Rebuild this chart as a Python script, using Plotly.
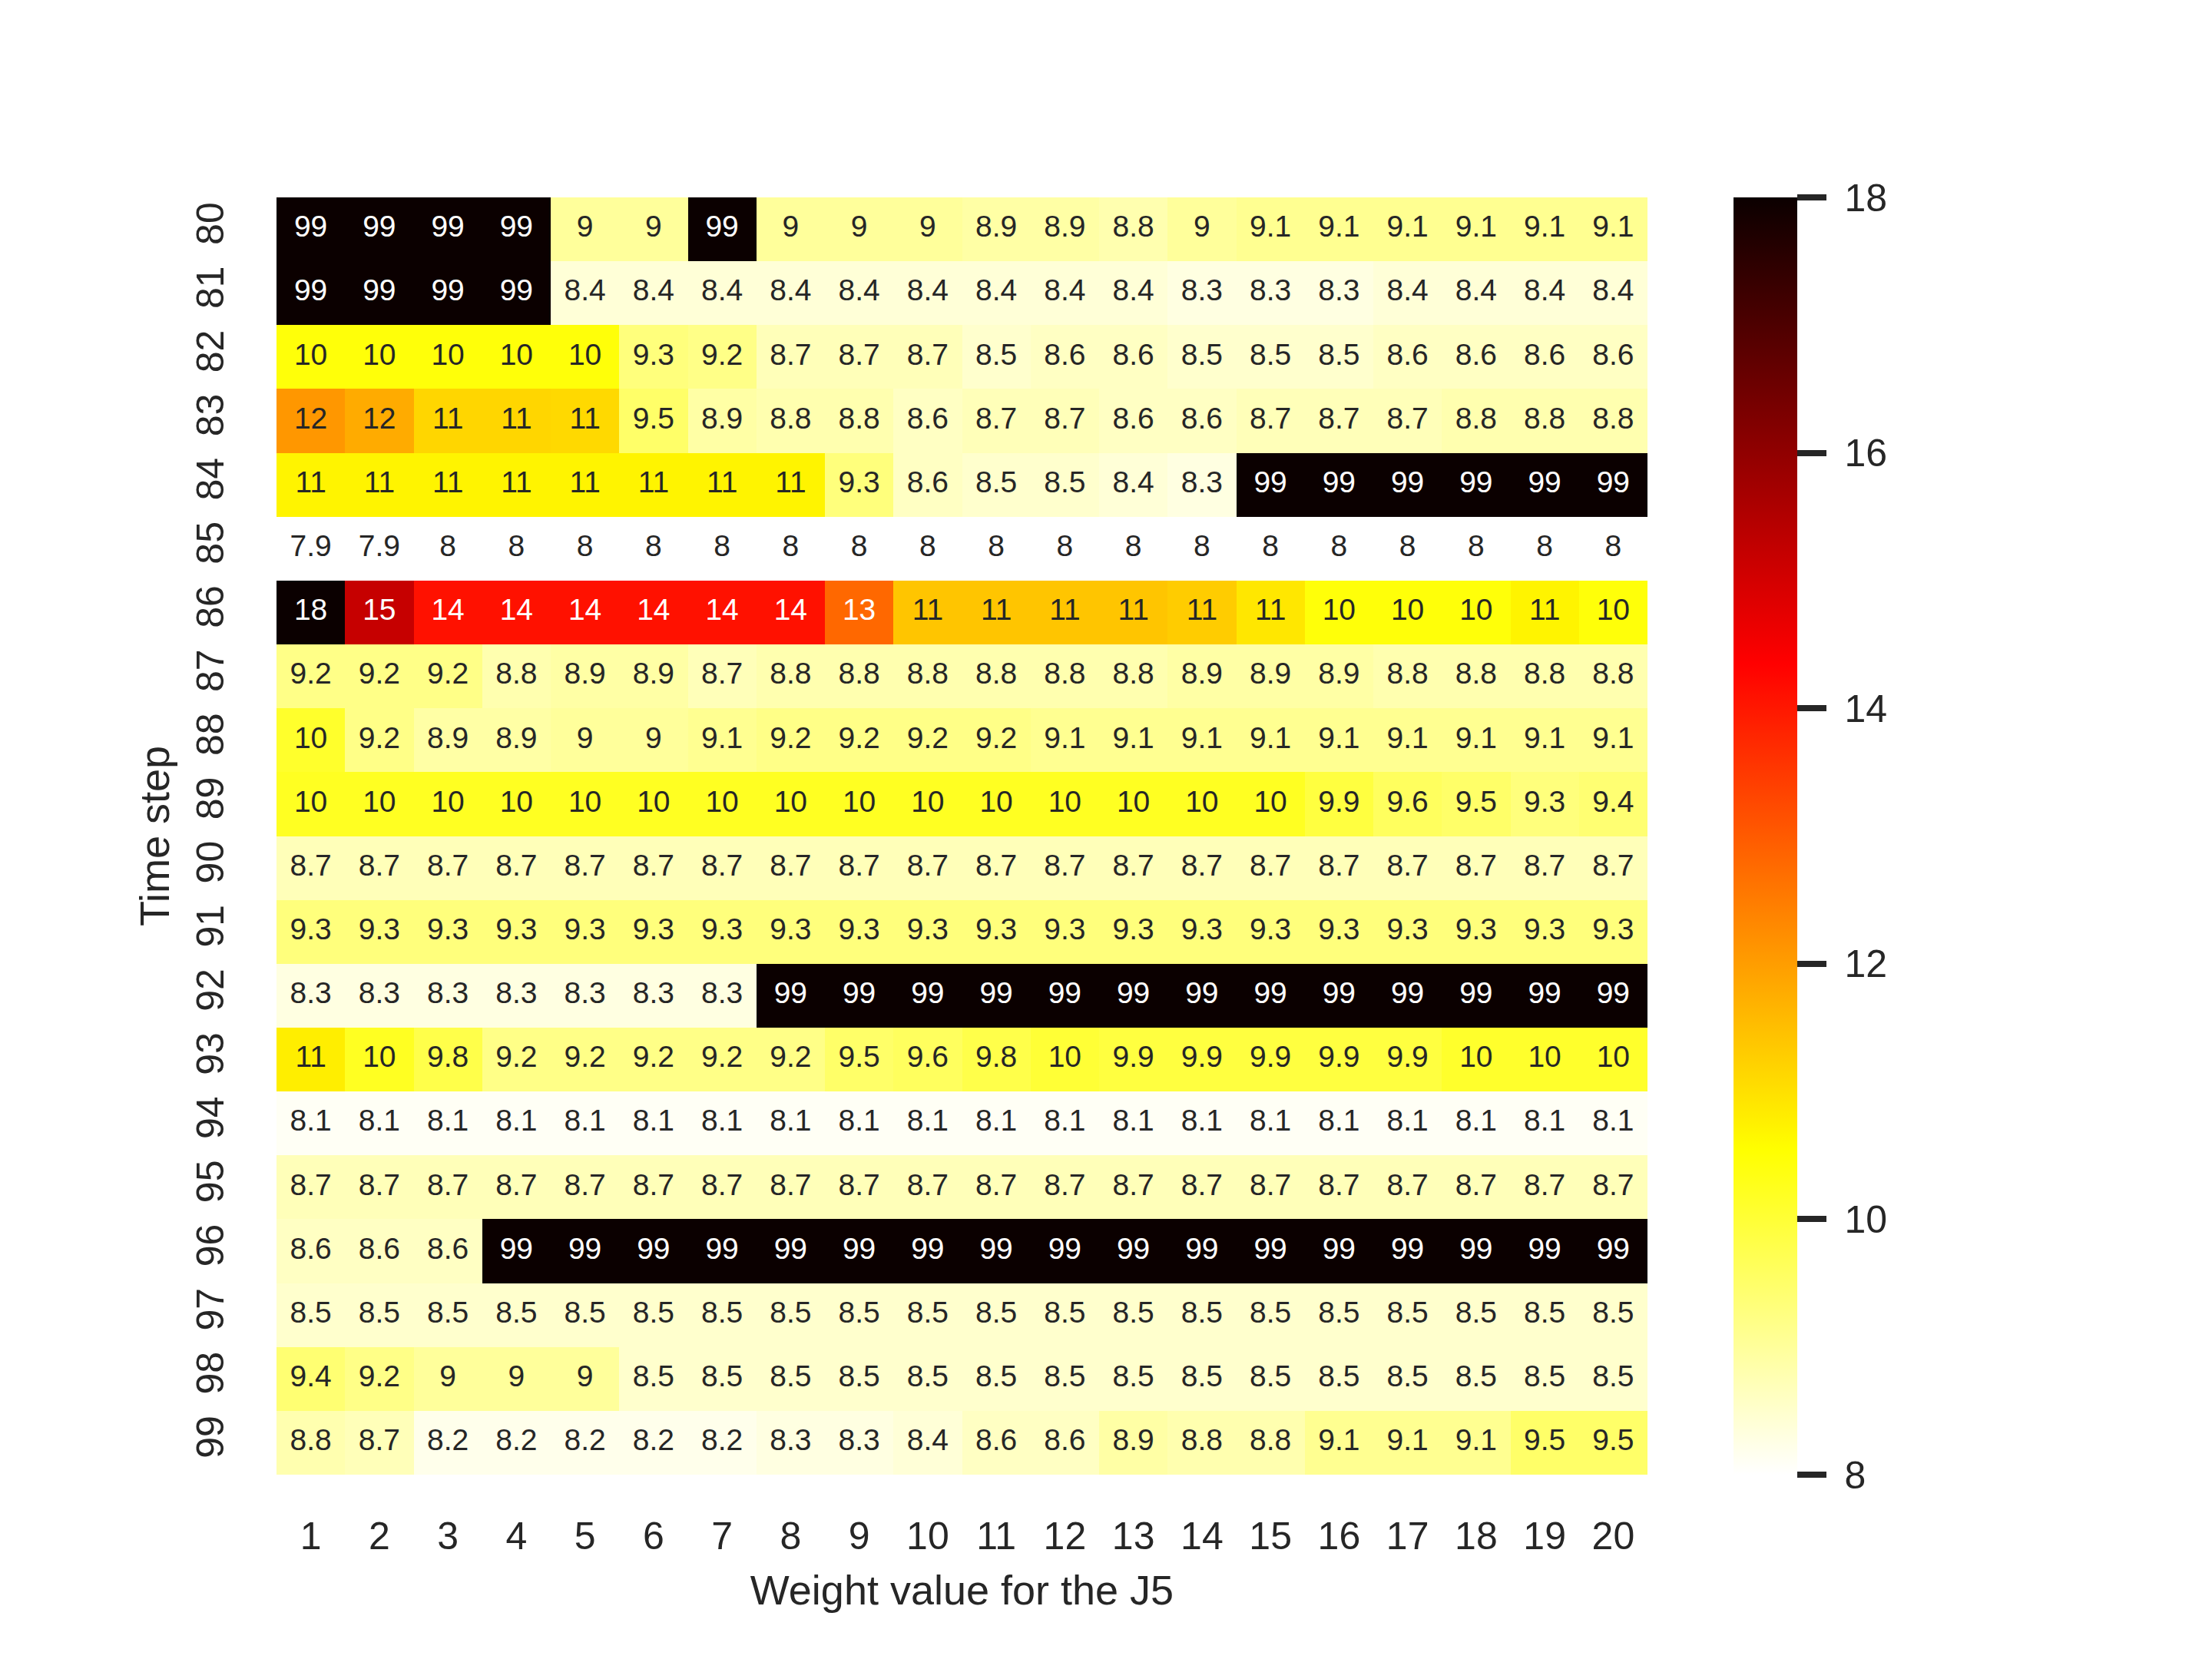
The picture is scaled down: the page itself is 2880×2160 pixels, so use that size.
import numpy as np
import plotly.graph_objects as go

weights = list(range(1, 21))
steps = list(range(80, 100))
cbar_ticks = [8, 10, 12, 14, 16, 18]

# cost per (time step, weight); 99 marks a failed run
r80 = [99, 99, 99, 99, 9.0, 9.0, 99, 9.0, 9.0, 9.0, 8.9, 8.9, 8.8, 9.0, 9.1, 9.1, 9.1, 9.1, 9.1, 9.1]
r81 = [99, 99, 99, 99, 8.4, 8.4, 8.4, 8.4, 8.4, 8.4, 8.4, 8.4, 8.4, 8.3, 8.3, 8.3, 8.4, 8.4, 8.4, 8.4]
r82 = [10.45, 10.45, 10.45, 10.45, 10.45, 9.3, 9.2, 8.7, 8.7, 8.7, 8.5, 8.6, 8.6, 8.5, 8.5, 8.5, 8.6, 8.6, 8.6, 8.6]
r83 = [12.1, 11.8, 11.15, 11.15, 11.1, 9.5, 8.9, 8.8, 8.8, 8.6, 8.7, 8.7, 8.6, 8.6, 8.7, 8.7, 8.7, 8.8, 8.8, 8.8]
r84 = [10.7, 10.7, 10.7, 10.7, 10.7, 10.7, 10.7, 10.7, 9.3, 8.6, 8.5, 8.5, 8.4, 8.3, 99, 99, 99, 99, 99, 99]
r85 = [7.9, 7.9, 8.0, 8.0, 8.0, 8.0, 8.0, 8.0, 8.0, 8.0, 8.0, 8.0, 8.0, 8.0, 8.0, 8.0, 8.0, 8.0, 8.0, 8.0]
r86 = [18.0, 15.2, 14.1, 14.1, 14.1, 14.1, 14.1, 14.1, 12.8, 11.4, 11.4, 11.4, 11.4, 11.3, 10.9, 10.45, 10.45, 10.45, 10.7, 10.45]
r87 = [9.2, 9.2, 9.2, 8.8, 8.9, 8.9, 8.7, 8.8, 8.8, 8.8, 8.8, 8.8, 8.8, 8.9, 8.9, 8.9, 8.8, 8.8, 8.8, 8.8]
r88 = [10.1, 9.2, 8.9, 8.9, 9.0, 9.0, 9.1, 9.2, 9.2, 9.2, 9.2, 9.1, 9.1, 9.1, 9.1, 9.1, 9.1, 9.1, 9.1, 9.1]
r89 = [10.2, 10.2, 10.2, 10.2, 10.2, 10.2, 10.2, 10.2, 10.2, 10.2, 10.2, 10.2, 10.2, 10.2, 10.2, 9.9, 9.6, 9.5, 9.3, 9.4]
r90 = [8.7] * 20
r91 = [9.3] * 20
r92 = [8.3, 8.3, 8.3, 8.3, 8.3, 8.3, 8.3, 99, 99, 99, 99, 99, 99, 99, 99, 99, 99, 99, 99, 99]
r93 = [10.8, 10.2, 9.8, 9.2, 9.2, 9.2, 9.2, 9.2, 9.5, 9.6, 9.8, 10.0, 9.9, 9.9, 9.9, 9.9, 9.9, 10.1, 10.1, 10.1]
r94 = [8.1] * 20
r95 = [8.7] * 20
r96 = [8.6, 8.6, 8.6, 99, 99, 99, 99, 99, 99, 99, 99, 99, 99, 99, 99, 99, 99, 99, 99, 99]
r97 = [8.5] * 20
r98 = [9.4, 9.2, 9.0, 9.0, 9.0, 8.5, 8.5, 8.5, 8.5, 8.5, 8.5, 8.5, 8.5, 8.5, 8.5, 8.5, 8.5, 8.5, 8.5, 8.5]
r99 = [8.8, 8.7, 8.2, 8.2, 8.2, 8.2, 8.2, 8.3, 8.3, 8.4, 8.6, 8.6, 8.9, 8.8, 8.8, 9.1, 9.1, 9.1, 9.5, 9.5]

rows = [r80, r81, r82, r83, r84, r85, r86, r87, r88, r89,
        r90, r91, r92, r93, r94, r95, r96, r97, r98, r99]
z = np.array(rows, dtype=float)
vmin, vmax = 8, 18

# matplotlib "hot_r"
stops = [0.0, 0.253968, 0.634921, 1.0]
reds = [255, 255, 255, 10.6]
greens = [255, 255, 0, 0]
blues = [255, 0, 0, 0]
colorscale = [[s, f"rgb({r:.0f},{g:.0f},{b:.0f})"] for s, r, g, b in zip(stops, reds, greens, blues)]


def text_color(v):
    t = np.clip((v - vmin) / (vmax - vmin), 0, 1)
    rgb = [np.interp(t, stops, c) / 255 for c in (reds, greens, blues)]
    lin = [c / 12.92 if c <= 0.03928 else ((c + 0.055) / 1.055) ** 2.4 for c in rgb]
    lum = 0.2126 * lin[0] + 0.7152 * lin[1] + 0.0722 * lin[2]
    return "#262626" if lum > 0.408 else "white"


xs, ys, texts, colors = [], [], [], []
for i, s in enumerate(steps):
    for j, w in enumerate(weights):
        xs.append(w)
        ys.append(s)
        texts.append(f"{z[i, j]:.2g}")
        colors.append(text_color(z[i, j]))

# the page body adds an 8px offset, so positions are shifted back by it
W, H, OFF = 2880, 2160, 8

fig = go.Figure()
fig.add_trace(go.Heatmap(
    z=z, x=weights, y=steps,
    zmin=vmin, zmax=vmax,
    colorscale=colorscale,
    xgap=0, ygap=0,
    colorbar=dict(
        x=(2257 - OFF) / W, xanchor="left",
        y=1 - (257 - OFF) / H, yanchor="top",
        len=1663 / H, lenmode="fraction",
        thickness=83, thicknessmode="pixels",
        outlinewidth=0,
        tickvals=cbar_ticks, ticktext=["\u00a0" + str(t) for t in cbar_ticks],
        ticks="outside", ticklen=38, tickwidth=8, tickcolor="#262626",
        tickfont=dict(family="Liberation Sans, Arial", size=50, color="#262626"),
        ypad=0, xpad=0,
    ),
))
fig.add_trace(go.Scatter(
    x=xs, y=ys, text=texts, mode="text",
    textfont=dict(family="Liberation Sans, Arial", size=39, color=colors),
    hoverinfo="skip", showlegend=False,
))

fig.update_layout(
    width=W, height=H,
    margin=dict(l=0, r=0, t=0, b=0),
    paper_bgcolor="white", plot_bgcolor="white",
    font=dict(family="Liberation Sans, Arial", color="#262626"),
    xaxis=dict(
        domain=[(360 - OFF) / W, (2145 - OFF) / W],
        tickvals=weights, ticktext=[str(w) for w in weights],
        ticks="outside", ticklen=36, tickcolor="rgba(0,0,0,0)",
        tickfont=dict(size=50),
        showgrid=False, zeroline=False, showline=False,
        range=[0.5, 20.5],
        title=dict(text="Weight value for the J5", font=dict(size=54), standoff=24),
    ),
    yaxis=dict(
        domain=[1 - (1920 - OFF) / H, 1 - (257 - OFF) / H],
        tickvals=steps, ticktext=[str(s) for s in steps],
        tickangle=-90,
        ticks="outside", ticklen=48, tickcolor="rgba(0,0,0,0)",
        tickfont=dict(size=50),
        showgrid=False, zeroline=False, showline=False,
        range=[99.5, 79.5],
        title=dict(text="Time step", font=dict(size=54), standoff=8),
    ),
)

fig.write_html("out.html")
